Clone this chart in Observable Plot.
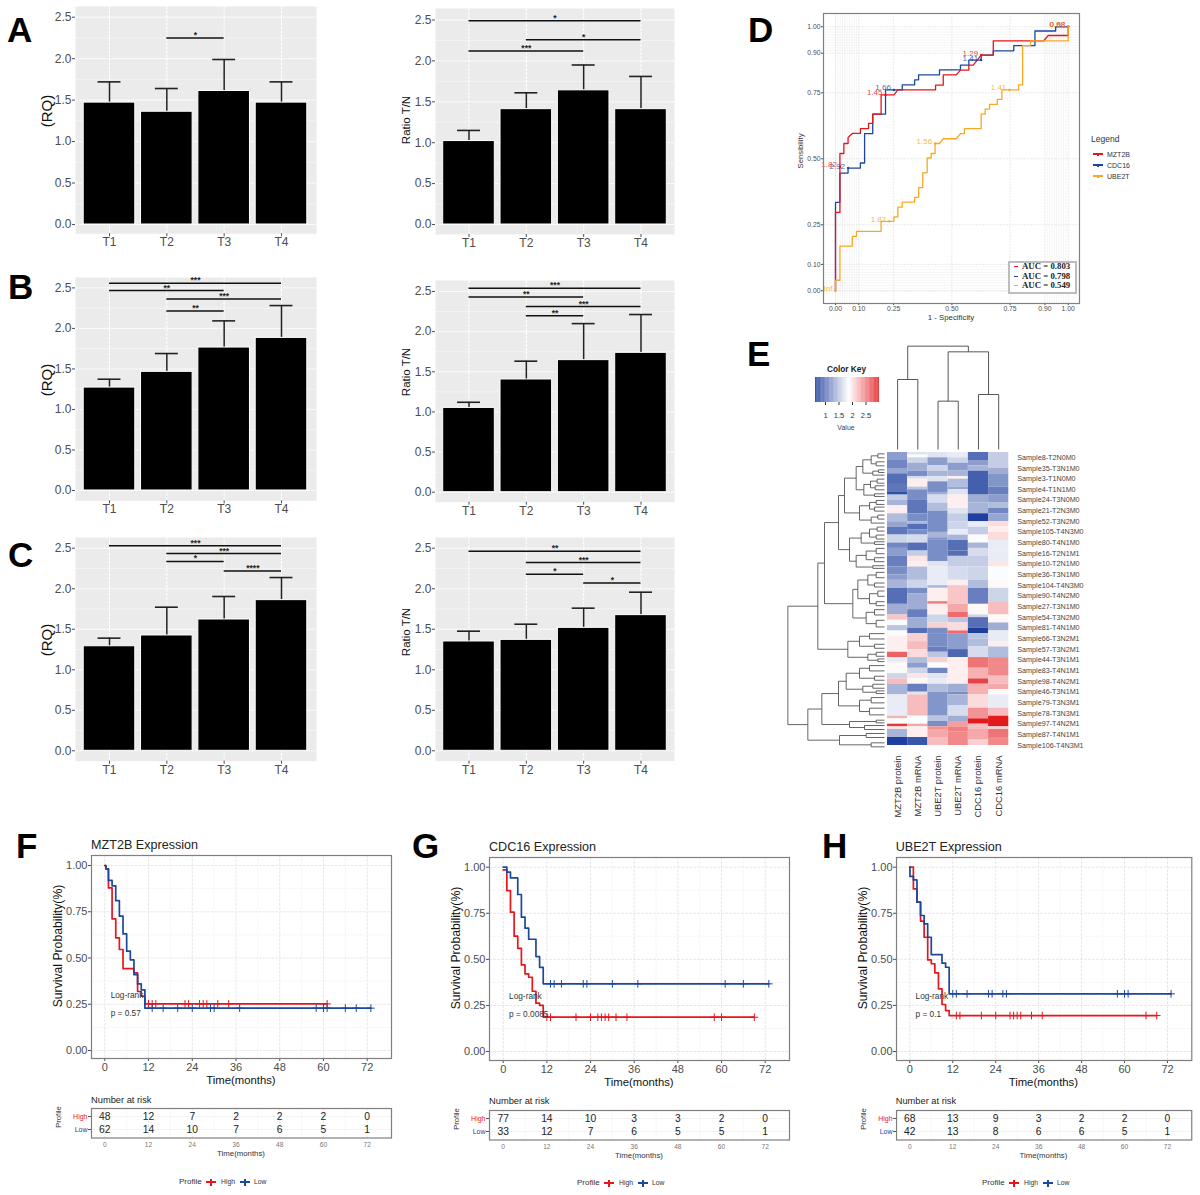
<!DOCTYPE html>
<html><head><meta charset="utf-8">
<script src="https://cdn.jsdelivr.net/npm/d3@7"></script>
<script src="https://cdn.jsdelivr.net/npm/@observablehq/plot@0.6"></script>
<style>
html,body{margin:0;padding:0;background:#fff}
#page{position:relative;width:1200px;height:1195px;overflow:hidden;font-family:'Liberation Sans',Arial,sans-serif}
#page>svg{position:absolute;overflow:visible}
.t{position:absolute;white-space:nowrap;line-height:1}
.b{position:absolute}
</style></head><body><div id="page"></div>
<script>
// ---------- bar charts ----------
const tiers=["T1","T2","T3","T4"];
const aRQ=[1.47,1.36,1.61,1.47], aRQerr=[1.72,1.64,1.99,1.72], aRQsig=[[2,3,2.25,"*"]];
const aTN=[1.02,1.41,1.64,1.41], aTNerr=[1.15,1.61,1.95,1.81], aTNsig=[[1,4,2.49,"*"],[2,4,2.26,"*"],[1,3,2.12,"***"]];
const bRQ=[1.27,1.464,1.764,1.883], bRQerr=[1.373,1.69,2.093,2.282], bRQsig=[[1,4,2.557,"***"],[1,3,2.467,"**"],[2,4,2.364,"***"],[2,3,2.216,"**"]];
const bTN=[1.05,1.404,1.645,1.736], bTNerr=[1.12,1.632,2.10,2.213], bTNsig=[[1,4,2.54,"***"],[1,3,2.43,"**"],[2,4,2.313,"***"],[2,3,2.197,"**"]];
const cRQ=[1.29,1.423,1.62,1.859], cRQerr=[1.39,1.772,1.904,2.138], cRQsig=[[1,4,2.529,"***"],[2,4,2.434,"***"],[2,3,2.336,"*"],[3,4,2.22,"****"]];
const cTN=[1.349,1.369,1.517,1.674], cTNerr=[1.476,1.562,1.76,1.957], cTNsig=[[1,4,2.463,"**"],[2,4,2.323,"***"],[2,3,2.179,"*"],[3,4,2.072,"*"]];
const barTicks=[0,.5,1,1.5,2,2.5], barMinor=[.25,.75,1.25,1.75,2.25];

// ---------- ROC ----------
const rocMZT2B=[[0,0],[0,.297],[.019,.297],[.019,.520],[.036,.520],[.036,.558],[.054,.558],[.054,.581],[.072,.596],[.107,.596],[.107,.614],[.142,.614],[.142,.634],[.160,.634],[.160,.669],[.196,.669],[.196,.742],[.251,.742],[.268,.761],[.430,.761],[.430,.779],[.463,.779],[.463,.818],[.519,.818],[.537,.836],[.573,.836],[.573,.855],[.592,.855],[.609,.874],[.626,.893],[.678,.893],[.678,.947],[.895,.947],[.914,.967],[1,.967],[1,1]];
const rocCDC16=[[0,0],[0,.335],[.019,.335],[.019,.446],[.054,.446],[.054,.465],[.107,.465],[.107,.484],[.125,.484],[.125,.595],[.160,.595],[.160,.669],[.215,.669],[.215,.761],[.287,.761],[.287,.780],[.340,.780],[.340,.799],[.357,.799],[.357,.818],[.447,.818],[.447,.837],[.537,.837],[.537,.855],[.573,.855],[.573,.874],[.626,.874],[.626,.893],[.678,.893],[.678,.909],[.766,.909],[.766,.929],[.857,.929],[.857,.984],[.946,.984],[.946,1],[1,1]];
const rocUBE2T=[[0,0],[0,.040],[.019,.040],[.019,.169],[.072,.169],[.072,.206],[.090,.206],[.090,.225],[.196,.225],[.196,.263],[.251,.263],[.251,.280],[.268,.280],[.268,.317],[.287,.317],[.287,.336],[.340,.336],[.340,.354],[.357,.354],[.357,.391],[.375,.391],[.375,.447],[.394,.447],[.394,.503],[.411,.503],[.411,.520],[.428,.520],[.428,.558],[.447,.558],[.463,.576],[.519,.576],[.537,.595],[.554,.595],[.554,.614],[.626,.614],[.626,.669],[.643,.669],[.643,.688],[.662,.688],[.662,.706],[.695,.706],[.695,.725],[.715,.725],[.715,.761],[.787,.761],[.787,.780],[.804,.780],[.804,.929],[.838,.929],[.838,.947],[1,.947],[1,1]];
const cutMZT2B=[[.019,.47,"1.82"],[.215,.742,"1.45"],[.626,.893,"1.29"],[1,1,"0.98"]];
const cutCDC16=[[.054,.465,"2.92"],[.251,.761,"1.66"],[.626,.874,"1.41"],[1,1,"0.68"]];
const cutUBE2T=[[0,0,"Inf"],[.231,.263,"1.87"],[.428,.558,"1.56"],[.747,.761,"1.41"],[1,1,"0.98"]];
const aucLabels=["AUC = 0.803","AUC = 0.798","AUC = 0.549"];
const rocTicks=[0,.1,.25,.5,.75,.9,1];

// ---------- heatmap: each column is a list of [end row, value] runs ----------
const heatCols=["MZT2B protein","MZT2B mRNA","UBE2T protein","UBE2T mRNA","CDC16 protein","CDC16 mRNA"];
const hMZT2Bp=[[3,1.25],[6,1.1],[8,1.3],[12,.95],[15,1],[16,.75],[18,1.55],[20,1.4],[23,1.95],[26,1.45],[28,1.3],[31,1],[34,1.6],[36,1.1],[39,1.25],[43,1.05],[46,1.15],[48,1.25],[51,1.4],[57,.95],[61,1.35],[63,2.15],[65,1.85],[67,1.5],[69,1.85],[75,1.95],[77,2.65],[79,1.75],[83,1.9],[85,1.6],[87,2.2],[91,1.4],[99,1.75],[100,2.25],[102,1.85],[103,2.85],[104,2],[107,1.4],[110,.65]];
const hMZT2Bm=[[1,1.7],[2,1.85],[4,1.6],[7,1.35],[9,1.15],[10,1.65],[13,1.95],[14,1.5],[18,1.15],[23,1],[26,1.15],[27,1.4],[29,.95],[31,1.15],[34,1.65],[37,.95],[39,1.55],[41,2],[43,1.95],[48,1.45],[51,1.6],[53,1.15],[59,1.35],[62,1.05],[66,1.35],[68,.95],[71,2.1],[74,2.2],[77,2.05],[79,1.45],[81,1.25],[83,1.6],[85,2],[87,1.9],[90,1.05],[91,1.7],[99,2.2],[102,1.85],[103,2.3],[104,1.95],[107,1.95],[110,.8]];
const hUBE2Tp=[[2,1.7],[5,1.25],[7,1.6],[9,1.4],[11,1.7],[15,1.15],[16,1.35],[19,1.65],[22,1.45],[30,1.15],[32,1.4],[33,1.2],[41,1.15],[43,1.7],[50,1.75],[51,1.4],[56,1.95],[57,2.5],[61,1.95],[64,1.6],[66,2.1],[68,1.15],[73,1.15],[75,1.05],[77,1.5],[79,2.1],[81,1.85],[83,1.1],[85,1.7],[87,1.75],[90,1.45],[99,1.2],[101,1.5],[103,1.15],[104,2.4],[107,2.3],[110,2.2]];
const hUBE2Tm=[[2,1.75],[4,1.6],[7,1.25],[9,1.4],[10,1.95],[13,1.45],[14,1.3],[16,1.7],[21,1.95],[23,1.7],[26,1.55],[29,1.6],[31,1.75],[33,1.4],[37,.95],[39,.95],[43,1.55],[48,1.65],[50,1.95],[57,2.15],[60,2.3],[62,2.6],[64,1.5],[67,2.05],[68,2.6],[74,1.25],[77,.9],[87,1.95],[90,1.35],[91,1.15],[95,1.4],[99,1.65],[101,1.35],[103,2.35],[105,2.5],[110,2.45]];
const hCDC16p=[[3,.95],[5,1.25],[7,1.4],[16,.85],[19,1.35],[23,1.4],[26,.65],[28,1.75],[31,1.55],[34,1.85],[36,1.4],[39,1.65],[43,1.55],[48,1.6],[51,1.45],[57,1.05],[61,1.9],[62,1.6],[66,.95],[68,.65],[70,1.5],[73,1.45],[77,1.65],[81,2.55],[85,2.25],[87,2.8],[91,2.25],[96,2.05],[100,2.4],[102,3],[104,2.2],[108,2.3],[110,2.1]];
const hCDC16m=[[6,1.55],[8,1.35],[13,1.2],[16,1.05],[19,1.25],[21,1.45],[23,1.1],[26,1.3],[28,2.05],[30,1.95],[33,2.05],[37,1.75],[41,1.75],[43,2],[48,1.85],[51,1.9],[56,1.6],[61,2.2],[64,1.9],[67,1.35],[71,1.75],[73,1.95],[77,1.45],[84,2.45],[87,2.2],[89,2.3],[91,1.9],[96,1.75],[99,2.2],[103,3],[104,2.1],[107,2.55],[110,2.45]];
const heatRuns=[hMZT2Bp,hMZT2Bm,hUBE2Tp,hUBE2Tm,hCDC16p,hCDC16m];
const rowLabels=["Sample8-T2N0M0","Sample35-T3N1M0","Sample3-T1N0M0","Sample4-T1N1M0","Sample24-T3N0M0","Sample21-T2N3M0","Sample52-T3N2M0","Sample105-T4N3M0","Sample80-T4N1M0","Sample16-T2N1M1","Sample10-T2N1M0","Sample36-T3N1M0","Sample104-T4N3M0","Sample90-T4N2M0","Sample27-T3N1M0","Sample54-T3N2M0","Sample81-T4N1M0","Sample66-T3N2M1","Sample57-T3N2M1","Sample44-T3N1M1","Sample83-T4N1M1","Sample98-T4N2M1","Sample46-T3N1M1","Sample79-T3N3M1","Sample78-T3N3M1","Sample97-T4N2M1","Sample87-T4N1M1","Sample106-T4N3M1"];
// dendrograms: [merge height, upper child, lower child]; a bare number is a leaf of that many rows
const colTree=[310,[210,1,1],[293,[145,1,1],[165,1,1]]];
const rowTree=[290,
 [200,
  [180,
   [138,
    [120,
     [85,[65,[40,[20,1,2],[25,1,2]],[35,[18,1,1],1]],[62,[42,[22,2,1],[28,1,2]],[30,1,1]]],
     [75,[45,[25,2,1],[30,1,2]],[40,[20,1,2],1]]],
    [105,[70,[45,[22,2,1],[25,2,1]],[30,1,1]],[85,[55,[25,2,2],[30,1,2]],[35,1,1]]]],
   [95,[80,[50,[25,2,2],[30,2,1]],[45,[20,2,2],[25,2,1]]],[55,[30,2,2],[25,2,3]]]],
  [110,[75,[45,2,2],[30,2,1]],[50,[25,2,1],[20,1,1]]]],
 [230,
  [188,
   [138,[115,[75,[45,2,2],[30,2,1]],[65,[35,2,1],[25,1,1]]],[75,[40,2,2],[45,2,3]]],
   [105,[25,1,1],[60,1,2]]],
  [135,[55,1,2],[40,2,1]]]];
const keyTicks=[1,1.5,2,2.5];

// ---------- survival ----------
const monthTicks=[0,12,24,36,48,60,72], monthMinor=[6,18,30,42,54,66], survTicks=[0,.25,.5,.75,1], survMinor=[.125,.375,.625,.875];
const fHighT=[0,.3,1,2,3,4,5,8,9,10,11,61], fHighS=[1,.982,.879,.712,.609,.546,.443,.42,.319,.294,.252,.252];
const fLowT=[0,.3,1,2,3,4,5,6,7,8,9,10,11,73], fLowS=[1,.982,.92,.89,.81,.726,.63,.537,.49,.41,.36,.328,.229,.229];
const fHighC=[12,13,14,22,23,26,27,28,31,34,61], fLowC=[13,16,20,24,29,30,37,58,60,61,66,69,73];
const gHighT=[0,1,2,3,4,5,6,7,8,9,10,11,69], gHighS=[.985,.873,.756,.626,.56,.47,.421,.403,.327,.262,.25,.186,.186];
const gLowT=[0,1,2,4,5,6,7,9,10,11,73], gLowS=[1,.973,.942,.852,.729,.669,.609,.515,.457,.367,.367];
const gHighC=[12,13,20,24,26,27,28,29,31,34,58,60,69], gLowC=[13,14,16,22,23,30,37,61,66,73];
const hHighT=[0,1,2,3,4,5,6,7,8,9,10,11,69], hHighS=[1,.882,.81,.707,.62,.497,.476,.427,.34,.255,.222,.195,.195];
const hLowT=[0,.05,1,2,3,4,5,6,9,10,11,73], hLowS=[1,.95,.931,.81,.738,.693,.62,.526,.479,.457,.313,.313];
const hHighC=[13,14,20,24,28,29,30,31,34,37,66,69], hLowC=[12,13,16,22,23,26,27,58,60,61,73];
const fRiskHigh=[48,12,7,2,2,2,0], fRiskLow=[62,14,10,7,6,5,1];
const gRiskHigh=[77,14,10,3,3,2,0], gRiskLow=[33,12,7,6,5,5,1];
const hRiskHigh=[68,13,9,3,2,2,0], hRiskLow=[42,13,8,6,6,5,1];

const RED="#e8151b",BLUE="#1c479f",ORANGE="#f9a825",INK="#4d4d4d";
const FONT="'Liberation Sans',Arial,sans-serif";
const page=document.getElementById("page");
function put(svg,x,y){svg.style.left=x+"px";svg.style.top=y+"px";page.appendChild(svg);}
function txt(s,x,base,o={}){
  const e=document.createElement("div");e.className="t";e.textContent=s;
  const fs=o.size||10;
  e.style.fontSize=fs+"px";e.style.left=x+"px";e.style.top=(base-.83*fs)+"px";
  e.style.color=o.color||"#222";e.style.fontWeight=o.weight||"normal";
  if(o.family)e.style.fontFamily=o.family;
  let tr="";if(o.anchor==="mid")tr+="translateX(-50%) ";if(o.rot)tr+="translate(-50%,-50%) rotate(-90deg)";
  if(tr)e.style.transform=tr;
  page.appendChild(e);
}
function box(x,y,w,h,c){const e=document.createElement("div");e.className="b";e.style.cssText+=`left:${x}px;top:${y}px;width:${w}px;height:${h}px;background:${c}`;page.appendChild(e);}
const base={style:{fontFamily:FONT,background:"transparent",overflow:"visible"}};

// ---------- bar panel ----------
function barPanel(p){
  const ml=50,mr=4,mt=3,mb=26,W=p.right-p.left,H=p.bottom-p.top;
  const step=(p.x4-p.x1)/3, per=(p.y0-p.y25)/2.5;
  const rows=tiers.map((t,i)=>({tier:t,pos:i+1,v:p.v[i],e:p.e[i]}));
  const sig=p.sig.map(([a,b,y,s])=>({a,b,y,s}));
  const svg=Plot.plot({...base,width:W+ml+mr,height:H+mt+mb,marginLeft:ml,marginRight:mr,marginTop:mt,marginBottom:mb,
    x:{domain:[1-(p.x1-p.left)/step,4+(p.right-p.x4)/step]},
    y:{domain:[-(p.bottom-p.y0)/per,2.5+(p.y25-p.top)/per]},
    marks:[
      Plot.frame({fill:"#ebebeb",stroke:null}),
      Plot.ruleY(barMinor,{stroke:"#fff",strokeWidth:.6,strokeDasharray:"3 1"}),
      Plot.ruleY(barTicks,{stroke:"#fff",strokeWidth:1,strokeDasharray:"3 1"}),
      Plot.ruleX([1,2,3,4],{stroke:"#fff",strokeWidth:1,strokeDasharray:"3 1"}),
      Plot.ruleX(rows,{x:"pos",y1:"v",y2:"e",stroke:"#222",strokeWidth:1.5}),
      Plot.ruleY(rows,{y:"e",x1:d=>d.pos-.2,x2:d=>d.pos+.2,stroke:"#222",strokeWidth:1.6}),
      Plot.rectY(rows,{x1:d=>d.pos-.45,x2:d=>d.pos+.45,y1:0,y2:"v",fill:"#000",stroke:"#fff",strokeWidth:1}),
      Plot.ruleY(sig,{y:"y",x1:"a",x2:"b",stroke:"#111",strokeWidth:1.5}),
      Plot.text(sig,{x:d=>(d.a+d.b)/2,y:"y",text:"s",fontSize:8.5,fontWeight:"bold",fill:"#222",lineAnchor:"bottom",dy:0}),
      Plot.axisX({ticks:[1,2,3,4],tickFormat:i=>tiers[i-1],tickSize:3,tickPadding:1,fontSize:12,color:INK,label:null}),
      Plot.axisY({ticks:barTicks,tickFormat:d3.format(".1f"),tickSize:3,tickPadding:1,fontSize:12,color:INK,label:null}),
    ]});
  put(svg,p.left-ml,p.top-mt);
  txt(p.label,p.labelX,p.labelY,{rot:true,size:p.labelSize,color:"#111"});
}
const leftCol={left:75,right:316,x1:109,x4:281}, rightCol={left:435,right:674,x1:468.5,x4:640.5};
barPanel({...leftCol,top:6,bottom:233.3,y0:224,y25:16.7,v:aRQ,e:aRQerr,sig:aRQsig,label:"(RQ)",labelX:46,labelY:123,labelSize:15});
barPanel({...rightCol,top:8,bottom:234,y0:224,y25:19.5,v:aTN,e:aTNerr,sig:aTNsig,label:"Ratio T/N",labelX:407,labelY:130,labelSize:11.5});
barPanel({...leftCol,top:277.3,bottom:500.7,y0:490.3,y25:287.7,v:bRQ,e:bRQerr,sig:bRQsig,label:"(RQ)",labelX:46,labelY:392,labelSize:15});
barPanel({...rightCol,top:280,bottom:501.7,y0:491.7,y25:291,v:bTN,e:bTNerr,sig:bTNsig,label:"Ratio T/N",labelX:407,labelY:382,labelSize:11.5});
barPanel({...leftCol,top:537,bottom:760.7,y0:750.3,y25:547.7,v:cRQ,e:cRQerr,sig:cRQsig,label:"(RQ)",labelX:46,labelY:652,labelSize:15});
barPanel({...rightCol,top:537,bottom:760.7,y0:750.3,y25:547.7,v:cTN,e:cTNerr,sig:cTNsig,label:"Ratio T/N",labelX:407,labelY:642,labelSize:11.5});

// ---------- ROC panel ----------
(function(){
  const left=823,right=1079,top=12.7,bottom=302.7,x0=835,x1=1067.7,y1=26,y0=290;
  const ml=30,mr=4,mt=3,mb=24;
  const sx=x1-x0,sy=y0-y1;
  const minor=[...d3.range(0,.1,.01),...d3.range(.91,1,.01)];
  const pts=a=>a.map(([x,y])=>({x,y}));
  const cut=a=>a.map(([x,y,t])=>({x,y,t}));
  const curve=(a,c)=>Plot.line(pts(a),{x:"x",y:"y",stroke:c,strokeWidth:1.3});
  const cmarks=(a,c)=>[
    Plot.dot(cut(a),{x:"x",y:"y",r:1.2,fill:c}),
    Plot.text(cut(a),{x:"x",y:"y",text:"t",fill:c,fontSize:8,textAnchor:"end",dx:-3,dy:-2,fillOpacity:.85})];
  const svg=Plot.plot({...base,width:right-left+ml+mr,height:bottom-top+mt+mb,marginLeft:ml,marginRight:mr,marginTop:mt,marginBottom:mb,
    x:{domain:[(left-x0)/sx,1+(right-x1)/sx]},y:{domain:[(y0-bottom)/sy,1+(y1-top)/sy]},
    marks:[
      Plot.ruleX(minor,{stroke:"#ececec",strokeWidth:.5}),
      Plot.ruleY(minor,{stroke:"#ececec",strokeWidth:.5}),
      Plot.ruleX(rocTicks,{stroke:"#e4e4e4",strokeWidth:.8,strokeDasharray:"2 1"}),
      Plot.ruleY(rocTicks,{stroke:"#e4e4e4",strokeWidth:.8,strokeDasharray:"2 1"}),
      curve(rocCDC16,BLUE),curve(rocMZT2B,RED),curve(rocUBE2T,ORANGE),
      ...cmarks(cutCDC16,BLUE),...cmarks(cutMZT2B,RED),...cmarks(cutUBE2T,ORANGE),
      Plot.axisX({ticks:rocTicks,tickFormat:d3.format(".2f"),tickSize:2,tickPadding:1,fontSize:6.8,color:INK,label:null}),
      Plot.axisY({ticks:rocTicks,tickFormat:d3.format(".2f"),tickSize:2,tickPadding:1,fontSize:6.8,color:INK,label:null}),
      Plot.frame({stroke:"#808080",strokeWidth:1.2}),
    ]});
  put(svg,left-ml,top-mt);
  txt("1 - Specificity",951,320,{size:7.8,anchor:"mid",color:"#333"});
  txt("Sensibility",801,157,{size:7.8,rot:true,color:"#333"});
  const b=document.createElement("div");b.className="b";b.style.cssText="left:1008px;top:261px;width:65px;height:29px;background:#fff;border:2px solid #bdbdbd";page.appendChild(b);
  [[268.5,RED],[278.5,BLUE],[288,ORANGE]].forEach(([y,c],i)=>{
    box(1014,y-3,4,1.4,c);
    txt(aucLabels[i],1022,y+.5,{size:8.8,weight:"bold",family:"'Liberation Serif',serif",color:"#222"});
  });
  txt("Legend",1091,142,{size:8.5,color:"#333"});
  [["MZT2B",RED,154],["CDC16",BLUE,165],["UBE2T",ORANGE,176]].forEach(([n,c,y])=>{
    box(1092.5,y-.7,10,1.4,c);box(1096.5,y-1.5,2.6,3,c);
    txt(n,1107,y+2.5,{size:7,color:"#333"});
  });
})();

// ---------- heatmap ----------
const colorOpts={type:"linear",domain:[.63,1.87,3],range:["#1a3c9c","#ffffff","#e31a1c"],interpolate:"rgb"};
function layoutTree(node,start,segs){
  if(typeof node==="number")return {pos:start+node/2,end:start+node,h:0};
  const [h,a,b]=node;
  const A=layoutTree(a,start,segs),B=layoutTree(b,A.end,segs);
  segs.push({h1:h,p1:A.pos,h2:h,p2:B.pos},{h1:h,p1:A.pos,h2:A.h,p2:A.pos},{h1:h,p1:B.pos,h2:B.h,p2:B.pos});
  return {pos:(A.pos+B.pos)/2,end:B.end,h};
}
(function(){
  const L=886.7,R=1008,T=452,B=745;
  const cells=heatRuns.flatMap((runs,c)=>{let s=0;return runs.map(([e,v])=>{const o={c,r1:s,r2:e,v};s=e;return o;});});
  const labels=rowLabels.map((t,i)=>({t,r:1.9+i*4}));
  const cols=heatCols.map((t,c)=>({t,c:c+.5}));
  const svg=Plot.plot({...base,width:R-L+110,height:B-T+80,marginLeft:0,marginRight:110,marginTop:0,marginBottom:80,
    x:{domain:[0,6],axis:null},y:{domain:[110,0],axis:null},color:colorOpts,
    marks:[
      Plot.rect(cells,{x1:"c",x2:d=>d.c+1,y1:"r1",y2:"r2",fill:"v"}),
      Plot.text(labels,{x:()=>6,y:"r",text:"t",textAnchor:"start",dx:8.5,fontSize:7.2,fill:"#444"}),
      Plot.text(cols,{x:"c",y:()=>110,text:"t",rotate:-90,textAnchor:"end",dy:10,fontSize:9.4,fill:"#333"}),
    ]});
  put(svg,L,T);
  let segs=[];layoutTree(colTree,0,segs);
  const top=Plot.plot({...base,width:R-L,height:104,margin:0,x:{domain:[0,6],axis:null},y:{domain:[0,312],axis:null},
    marks:[Plot.link(segs,{x1:"p1",y1:"h1",x2:"p2",y2:"h2",stroke:"#555",strokeWidth:1})]});
  put(top,L,344.5);
  segs=[];layoutTree(rowTree,0,segs);
  const left=Plot.plot({...base,width:98,height:B-T,margin:0,x:{domain:[294,0],axis:null},y:{domain:[110,0],axis:null},
    marks:[Plot.link(segs,{x1:"h1",y1:"p1",x2:"h2",y2:"p2",stroke:"#555",strokeWidth:.9})]});
  put(left,786,T);
  const keyVals=d3.range(.63,3,.03);
  const key=Plot.plot({...base,width:64,height:42,marginLeft:0,marginRight:0,marginTop:0,marginBottom:17,
    x:{domain:[.63,3]},y:{domain:[0,1],axis:null},color:colorOpts,
    marks:[
      Plot.rect(keyVals,{x1:d=>d,x2:d=>d+.031,y1:()=>0,y2:()=>1,fill:d=>d}),
      Plot.axisX({ticks:keyTicks,tickFormat:d=>d,tickSize:3,tickPadding:7,fontSize:7.5,color:"#333",label:null}),
    ]});
  put(key,815,377.3);
  txt("Color Key",846.5,372,{size:8.3,weight:"bold",anchor:"mid",color:"#222"});
  txt("Value",846,430,{size:7,anchor:"mid",color:"#444"});
})();

// ---------- survival panel ----------
function kmPanel(p){
  const {left,right,top,bottom,x0,x72,y1,y0}=p;
  const sx=(x72-x0)/72,sy=y0-y1;
  const xd=[(left-x0)/sx,72+(right-x72)/sx];
  const ml=50,mr=4,mt=4,mb=30;
  const ser=(T,S)=>T.map((t,i)=>({t,s:S[i]}));
  const cen=(C,S)=>C.map(t=>({t,s:S[S.length-1]}));
  const grid=[
    Plot.ruleX(monthMinor,{stroke:"#f0f0f0",strokeWidth:.7,strokeDasharray:"3 1"}),
    Plot.ruleX(monthTicks,{stroke:"#e8e8e8",strokeWidth:1,strokeDasharray:"3 1"})];
  const svg=Plot.plot({...base,width:right-left+ml+mr,height:bottom-top+mt+mb,marginLeft:ml,marginRight:mr,marginTop:mt,marginBottom:mb,
    x:{domain:xd},y:{domain:[(y0-bottom)/sy,1+(y1-top)/sy]},
    marks:[
      ...grid,
      Plot.ruleY(survMinor,{stroke:"#f0f0f0",strokeWidth:.7,strokeDasharray:"3 1"}),
      Plot.ruleY(survTicks,{stroke:"#e8e8e8",strokeWidth:1,strokeDasharray:"3 1"}),
      Plot.line(ser(p.hT,p.hS),{x:"t",y:"s",curve:"step-after",stroke:RED,strokeWidth:1.7}),
      Plot.dot(cen(p.hC,p.hS),{x:"t",y:"s",symbol:"plus",r:2.6,stroke:RED,strokeWidth:1}),
      Plot.line(ser(p.lT,p.lS),{x:"t",y:"s",curve:"step-after",stroke:BLUE,strokeWidth:1.7}),
      Plot.dot(cen(p.lC,p.lS),{x:"t",y:"s",symbol:"plus",r:2.6,stroke:BLUE,strokeWidth:1}),
      Plot.text(["Log-rank"],{x:()=>1.6,y:()=>.3,textAnchor:"start",fontSize:8.3,fill:"#333"}),
      Plot.text([p.pval],{x:()=>1.6,y:()=>.2,textAnchor:"start",fontSize:8.3,fill:"#333"}),
      Plot.axisX({ticks:monthTicks,tickSize:3,tickPadding:2,fontSize:11,color:INK,label:null}),
      Plot.axisY({ticks:survTicks,tickFormat:d3.format(".2f"),tickSize:3,tickPadding:1,fontSize:11,color:INK,label:null}),
      Plot.frame({stroke:"#7f7f7f",strokeWidth:1.2}),
    ]});
  put(svg,left-ml,top-mt);
  const cx=(left+right)/2;
  txt(p.title,left,top-6,{size:12.6,color:"#222"});
  txt("Survival Probability(%)",left-33,(top+bottom)/2,{size:12.2,rot:true,color:"#111"});
  txt("Time(months)",cx,bottom+26,{size:11.3,anchor:"mid",color:"#111"});
  const rT=p.rTop,rB=rT+29.5;
  const risk=[...p.rH.map((n,i)=>({t:monthTicks[i],g:"High",n})),...p.rL.map((n,i)=>({t:monthTicks[i],g:"Low",n}))];
  const mb2=14;
  const tab=Plot.plot({...base,width:right-left+ml+mr,height:rB-rT+mt+mb2,marginLeft:ml,marginRight:mr,marginTop:mt,marginBottom:mb2,
    x:{domain:xd},y:{type:"point",domain:["High","Low"],padding:.57},
    marks:[
      ...grid,
      Plot.ruleY(["High","Low"],{stroke:"#f0f0f0",strokeWidth:.8}),
      Plot.text(risk,{x:"t",y:"g",text:"n",fontSize:10.3,fill:"#222"}),
      Plot.axisY({tickSize:3,tickFormat:()=>"",color:"#555",label:null}),
      Plot.text(["High"],{frameAnchor:"left",y:d=>d,text:d=>d,textAnchor:"end",dx:-4,fontSize:7,fill:RED}),
      Plot.text(["Low"],{frameAnchor:"left",y:d=>d,text:d=>d,textAnchor:"end",dx:-4,fontSize:7,fill:BLUE}),
      Plot.axisX({ticks:monthTicks,tickSize:0,tickPadding:4,fontSize:6.6,color:"#777",label:null}),
      Plot.frame({stroke:"#7f7f7f",strokeWidth:1.2}),
    ]});
  put(tab,left-ml,rT-mt);
  txt("Number at risk",left,rT-5,{size:9.3,color:"#222"});
  txt("Profile",left-32,rT+15,{size:7.6,rot:true,color:"#333"});
  txt("Time(months)",cx,rT+48,{size:7.8,anchor:"mid",color:"#333"});
  const ly=p.legY,lx=p.legX;
  txt("Profile",lx,ly+3,{size:8,color:"#333"});
  box(lx+27,ly-.7,10,1.5,RED);box(lx+31.4,ly-3.5,1.2,7,RED);
  txt("High",lx+42,ly+3,{size:6.8,color:"#333"});
  box(lx+61,ly-.7,10,1.5,BLUE);box(lx+65.4,ly-3.5,1.2,7,BLUE);
  txt("Low",lx+75,ly+3,{size:6.8,color:"#333"});
}
kmPanel({title:"MZT2B Expression",left:91,right:391,top:855,bottom:1058,x0:104.3,x72:366.7,y1:865,y0:1050,
  hT:fHighT,hS:fHighS,lT:fLowT,lS:fLowS,hC:fHighC,lC:fLowC,pval:"p = 0.57",rH:fRiskHigh,rL:fRiskLow,rTop:1108.3,legX:179,legY:1182});
kmPanel({title:"CDC16 Expression",left:489,right:789,top:857,bottom:1060,x0:502.7,x72:764.7,y1:866.7,y0:1051,
  hT:gHighT,hS:gHighS,lT:gLowT,lS:gLowS,hC:gHighC,lC:gLowC,pval:"p = 0.0085",rH:gRiskHigh,rL:gRiskLow,rTop:1110,legX:577,legY:1183});
kmPanel({title:"UBE2T Expression",left:895.7,right:1191,top:857,bottom:1060,x0:909,x72:1166.7,y1:866.7,y0:1051,
  hT:hHighT,hS:hHighS,lT:hLowT,lS:hLowS,hC:hHighC,lC:hLowC,pval:"p = 0.1",rH:hRiskHigh,rL:hRiskLow,rTop:1110,legX:982,legY:1183});

// ---------- panel letters ----------
[["A",7,41],["B",8,298],["C",8,566],["D",748,41],["E",747,365],["F",16,857],["G",412,857],["H",822,857]]
  .forEach(([s,x,y])=>txt(s,x,y,{size:35,weight:"bold",color:"#000"}));
</script></body></html>
